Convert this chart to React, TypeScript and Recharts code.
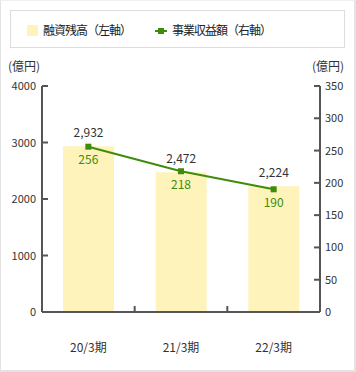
import { Bar, ComposedChart, LabelList, Line, XAxis, YAxis } from "recharts";

const periods = ["20/3期", "21/3期", "22/3期"];
const loanBalance = [2932, 2472, 2224];
const businessRevenue = [256, 218, 190];
const leftTicks = [0, 1000, 2000, 3000, 4000];
const rightTicks = [0, 50, 100, 150, 200, 250, 300, 350];

const data = periods.map((p, i) => ({
  period: p,
  loan: loanBalance[i],
  revenue: businessRevenue[i],
}));

const FONT = '"Noto Sans CJK JP", "Noto Sans", sans-serif';
const AXIS = "#555";
const TEXT = "#333";
const BAR = "#fdf3bb";
const GREEN = "#3f8c0b";

const fmt = (v: number) => v.toLocaleString("en-US");

function LeftTick(props: any) {
  const { x, y, payload } = props;
  return (
    <g>
      <line x1={x + 6} x2={x + 12} y1={y} y2={y} stroke={AXIS} strokeWidth={2} />
      <text x={x} y={y} dy={4} textAnchor="end" fontSize={11} fill={TEXT} fontFamily={FONT}>
        {payload.value}
      </text>
    </g>
  );
}

function RightTick(props: any) {
  const { x, y, payload } = props;
  return (
    <g>
      <line x1={x - 5} x2={x - 11} y1={y} y2={y} stroke={AXIS} strokeWidth={2} />
      <text x={x} y={y} dy={4} textAnchor="start" fontSize={11} fill={TEXT} fontFamily={FONT}>
        {payload.value}
      </text>
    </g>
  );
}

function BottomTick(props: any) {
  const { x, y, payload, index, width, visibleTicksCount } = props;
  const band = width / visibleTicksCount;
  const last = index === visibleTicksCount - 1;
  return (
    <g>
      {!last && (
        <line
          x1={x + band / 2}
          x2={x + band / 2}
          y1={y}
          y2={y - 6}
          stroke={AXIS}
          strokeWidth={2}
        />
      )}
      <text x={x} y={y} dy={40} textAnchor="middle" fontSize={12} fill={TEXT} fontFamily={FONT}>
        {payload.value}
      </text>
    </g>
  );
}

function SquareDot(props: any) {
  const { cx, cy } = props;
  return <rect x={cx - 3} y={cy - 3} width={6} height={6} fill={GREEN} />;
}

const legendText = {
  position: "absolute" as const,
  top: 11,
  fontSize: 12,
  lineHeight: "16px",
  whiteSpace: "nowrap" as const,
  color: "#222",
  letterSpacing: -1,
};

export default function App() {
  return (
    <div
      style={{
        position: "absolute",
        top: 0,
        left: 0,
        width: 356,
        height: 372,
        background: "#fff",
        fontFamily: FONT,
        color: TEXT,
      }}
    >
      <div
        style={{
          position: "absolute",
          left: 10,
          top: 10,
          width: 333,
          height: 36,
          border: "1px solid #ddd",
        }}
      >
        <div style={{ position: "absolute", left: 16, top: 14, width: 11, height: 11, background: BAR }} />
        <div style={{ ...legendText, left: 32 }}>融資残高（左軸）</div>
        <div style={{ position: "absolute", left: 144, top: 19, width: 12, height: 2, background: GREEN }} />
        <div style={{ position: "absolute", left: 147, top: 17, width: 6, height: 6, background: GREEN }} />
        <div style={{ ...legendText, left: 161 }}>事業収益額（右軸）</div>
      </div>
      <div style={{ position: "absolute", left: 8, top: 58, fontSize: 12, lineHeight: "16px" }}>(億円)</div>
      <div style={{ position: "absolute", left: 312, top: 58, fontSize: 12, lineHeight: "16px" }}>(億円)</div>

      <div style={{ position: "absolute", left: 0, top: 0 }}>
        <ComposedChart
          width={356}
          height={372}
          data={data}
          margin={{ top: 86, right: 0, bottom: 0, left: 0 }}
        >
          <XAxis
            dataKey="period"
            height={60}
            axisLine={{ stroke: AXIS, strokeWidth: 2 }}
            tickLine={false}
            tickSize={0}
            tickMargin={0}
            tick={<BottomTick />}
            interval={0}
          />
          <YAxis
            yAxisId="left"
            orientation="left"
            width={42}
            domain={[0, 4000]}
            ticks={leftTicks}
            axisLine={{ stroke: AXIS, strokeWidth: 2 }}
            tickLine={false}
            tickSize={0}
            tickMargin={6}
            tick={<LeftTick />}
            interval={0}
          />
          <YAxis
            yAxisId="right"
            orientation="right"
            width={36}
            domain={[0, 350]}
            ticks={rightTicks}
            axisLine={{ stroke: AXIS, strokeWidth: 2 }}
            tickLine={false}
            tickSize={0}
            tickMargin={5}
            tick={<RightTick />}
            interval={0}
          />
          <Bar yAxisId="left" dataKey="loan" fill={BAR} barSize={51} isAnimationActive={false}>
            <LabelList
              dataKey="loan"
              position="top"
              offset={9}
              formatter={(v: any) => fmt(Number(v))}
              fill={TEXT}
              fontSize={12}
              fontFamily={FONT}
            />
          </Bar>
          <Line
            yAxisId="right"
            dataKey="revenue"
            stroke={GREEN}
            strokeWidth={2}
            dot={<SquareDot />}
            activeDot={false}
            isAnimationActive={false}
          >
            <LabelList
              dataKey="revenue"
              position="bottom"
              offset={9}
              fill={GREEN}
              fontSize={12}
              fontFamily={FONT}
            />
          </Line>
        </ComposedChart>
      </div>
      <div
        style={{
          position: "absolute",
          left: 0,
          top: 0,
          width: 356,
          height: 372,
          boxSizing: "border-box",
          borderRight: "2px solid #e3e3e3",
          borderBottom: "2px solid #e3e3e3",
          borderLeft: "1px solid #e3e3e3",
          borderTop: "1px solid #f0f0f0",
          pointerEvents: "none",
        }}
      />
    </div>
  );
}
